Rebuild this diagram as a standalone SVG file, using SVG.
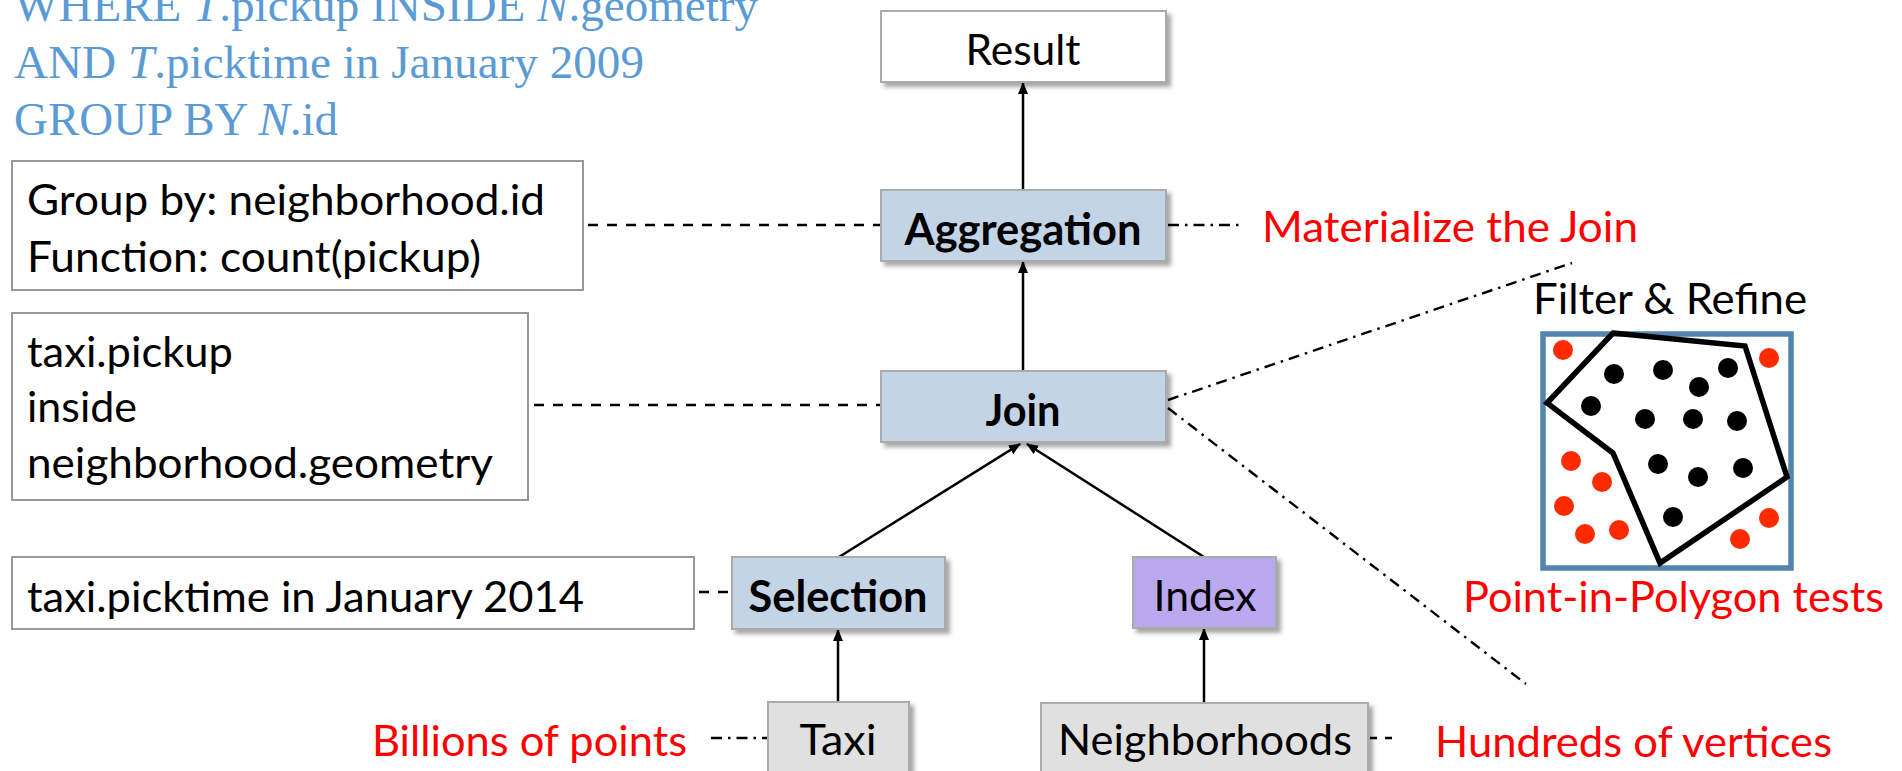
<svg xmlns="http://www.w3.org/2000/svg" width="1902" height="771" viewBox="0 0 1902 771">
<defs>
<style>
.sql{font-family:"Liberation Serif","Times New Roman",serif;font-size:47px;fill:#5B9BD5}
.t{font-family:Lato,"Liberation Sans",sans-serif;font-size:43px;fill:#000}
.b{font-weight:700}
.red{fill:#FF0000}
.tb{fill:#fff;stroke:#999;stroke-width:2}
.node{stroke:#ABABAB;stroke-width:2;filter:url(#sh)}
.blue{fill:#C2D4E5}
.lav{fill:#BAA9EE}
.gray{fill:#E0E0E0}
.white{fill:#fff}
.arrow{stroke:#000;stroke-width:2.5;fill:none;marker-end:url(#ah)}
.dash{stroke:#000;stroke-width:2.4;fill:none;stroke-dasharray:10 9}
.dd{stroke:#000;stroke-width:2.4;fill:none;stroke-dasharray:11 6 2.5 6}
.bk{fill:#000}
.rd{fill:#FF2A00}
</style>
<filter id="sh" x="-10%" y="-10%" width="130%" height="140%">
<feDropShadow dx="4" dy="4" stdDeviation="2" flood-color="#000" flood-opacity="0.35"/>
</filter>
<marker id="ah" markerUnits="userSpaceOnUse" markerWidth="12" markerHeight="10" refX="11" refY="5" orient="auto">
<path d="M0,0 L12,5 L0,10 z" fill="#000"/>
</marker>
</defs>

<g id="sql-query">
<text class="sql" x="14" y="21" textLength="744" lengthAdjust="spacingAndGlyphs">WHERE <tspan font-style="italic">T</tspan>.pickup INSIDE <tspan font-style="italic">N</tspan>.geometry</text>
<text class="sql" x="14" y="78" textLength="630" lengthAdjust="spacingAndGlyphs">AND <tspan font-style="italic">T</tspan>.picktime in January 2009</text>
<text class="sql" x="14" y="135" textLength="324" lengthAdjust="spacingAndGlyphs">GROUP BY <tspan font-style="italic">N</tspan>.id</text>
</g>

<g id="connectors">
<line class="arrow" x1="1023" y1="190" x2="1023" y2="83"/>
<line class="arrow" x1="1023" y1="371" x2="1023" y2="262"/>
<line class="arrow" x1="839" y1="557" x2="1020" y2="444"/>
<line class="arrow" x1="1204" y1="557" x2="1027" y2="444"/>
<line class="arrow" x1="838" y1="702" x2="838" y2="630"/>
<line class="arrow" x1="1204" y1="703" x2="1204" y2="629"/>
<line class="dash" x1="588" y1="225" x2="881" y2="225"/>
<line class="dash" x1="534" y1="405" x2="881" y2="405"/>
<line class="dash" x1="699" y1="592" x2="732" y2="592"/>
<line class="dash" x1="1370" y1="738" x2="1396" y2="738" style="stroke-dasharray:7 8"/>
<line class="dd" x1="1168" y1="225" x2="1243" y2="225"/>
<line class="dd" x1="711" y1="738" x2="768" y2="738"/>
<line class="dd" x1="1168" y1="400" x2="1572" y2="263"/>
<line class="dd" x1="1168" y1="408" x2="1526" y2="684"/>
</g>

<g id="result">
<rect class="node white" x="881" y="11" width="285" height="71"/>
<text class="t" x="1023" y="65" text-anchor="middle" textLength="115" lengthAdjust="spacingAndGlyphs">Result</text>
</g>

<g id="aggregation">
<rect class="node blue" x="881" y="190" width="285" height="71"/>
<text class="t b" x="1023" y="245" text-anchor="middle" textLength="237" lengthAdjust="spacingAndGlyphs">Aggregation</text>
</g>

<g id="join">
<rect class="node blue" x="881" y="371" width="285" height="71"/>
<text class="t b" x="1023" y="426" text-anchor="middle" textLength="75" lengthAdjust="spacingAndGlyphs">Join</text>
</g>

<g id="selection">
<rect class="node blue" x="732" y="557" width="213" height="72"/>
<text class="t b" x="838" y="612" text-anchor="middle" textLength="179" lengthAdjust="spacingAndGlyphs">Selection</text>
</g>

<g id="index">
<rect class="node lav" x="1133" y="557" width="143" height="71"/>
<text class="t" x="1205" y="611" text-anchor="middle" textLength="103" lengthAdjust="spacingAndGlyphs">Index</text>
</g>

<g id="taxi">
<rect class="node gray" x="768" y="702" width="141" height="80"/>
<text class="t" x="838" y="755" text-anchor="middle" textLength="77" lengthAdjust="spacingAndGlyphs">Taxi</text>
</g>

<g id="neighborhoods">
<rect class="node gray" x="1041" y="703" width="327" height="80"/>
<text class="t" x="1205" y="755" text-anchor="middle" textLength="294" lengthAdjust="spacingAndGlyphs">Neighborhoods</text>
</g>

<g id="groupby-note">
<rect class="tb" x="12" y="161" width="571" height="129"/>
<text class="t" x="27" y="215" textLength="518" lengthAdjust="spacingAndGlyphs">Group by: neighborhood.id</text>
<text class="t" x="27" y="272" textLength="454" lengthAdjust="spacingAndGlyphs">Function: count(pickup)</text>
</g>

<g id="join-note">
<rect class="tb" x="12" y="313" width="516" height="187"/>
<text class="t" x="27" y="367" textLength="206" lengthAdjust="spacingAndGlyphs">taxi.pickup</text>
<text class="t" x="27" y="422" textLength="110" lengthAdjust="spacingAndGlyphs">inside</text>
<text class="t" x="27" y="478" textLength="466" lengthAdjust="spacingAndGlyphs">neighborhood.geometry</text>
</g>

<g id="selection-note">
<rect class="tb" x="12" y="557" width="682" height="72"/>
<text class="t" x="27" y="612" textLength="557" lengthAdjust="spacingAndGlyphs">taxi.picktime in January 2014</text>
</g>

<g id="annotations">
<text class="t red" x="1262" y="242" textLength="376" lengthAdjust="spacingAndGlyphs">Materialize the Join</text>
<text class="t red" x="372" y="756" textLength="315" lengthAdjust="spacingAndGlyphs">Billions of points</text>
<text class="t red" x="1435" y="757" textLength="397" lengthAdjust="spacingAndGlyphs">Hundreds of vertices</text>
<text class="t red" x="1463" y="612" textLength="421" lengthAdjust="spacingAndGlyphs">Point-in-Polygon tests</text>
<text class="t" x="1533" y="314" textLength="274" lengthAdjust="spacingAndGlyphs">Filter &amp; Refine</text>
</g>

<g id="filter-refine">
<rect x="1543" y="334" width="248" height="234" fill="#fff" stroke="#5485AE" stroke-width="5.5"/>
<polygon points="1613,333 1745,346 1787,477 1660,563 1613,453 1547,403" fill="none" stroke="#000" stroke-width="5.5" stroke-linejoin="miter"/>
<circle class="bk" cx="1614" cy="374" r="10"/>
<circle class="bk" cx="1663" cy="370" r="10"/>
<circle class="bk" cx="1728" cy="368" r="10"/>
<circle class="bk" cx="1699" cy="387" r="10"/>
<circle class="bk" cx="1591" cy="406" r="10"/>
<circle class="bk" cx="1645" cy="419" r="10"/>
<circle class="bk" cx="1693" cy="419" r="10"/>
<circle class="bk" cx="1737" cy="421" r="10"/>
<circle class="bk" cx="1658" cy="464" r="10"/>
<circle class="bk" cx="1698" cy="477" r="10"/>
<circle class="bk" cx="1743" cy="468" r="10"/>
<circle class="bk" cx="1673" cy="517" r="10"/>
<circle class="rd" cx="1563" cy="350" r="10"/>
<circle class="rd" cx="1769" cy="358" r="10"/>
<circle class="rd" cx="1571" cy="461" r="10"/>
<circle class="rd" cx="1602" cy="482" r="10"/>
<circle class="rd" cx="1564" cy="506" r="10"/>
<circle class="rd" cx="1585" cy="534" r="10"/>
<circle class="rd" cx="1619" cy="530" r="10"/>
<circle class="rd" cx="1769" cy="518" r="10"/>
<circle class="rd" cx="1740" cy="539" r="10"/>
</g>
</svg>
